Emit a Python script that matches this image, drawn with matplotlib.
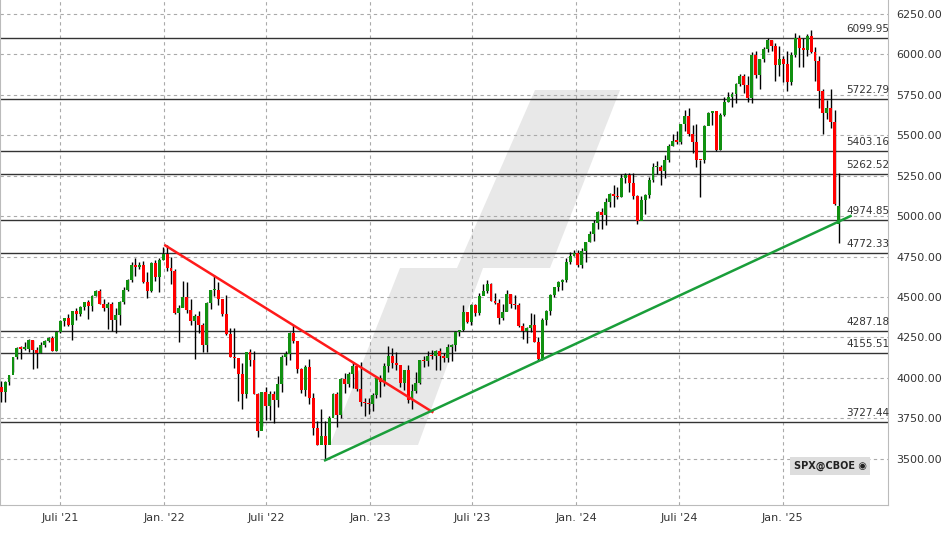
import matplotlib
matplotlib.use("Agg")
import matplotlib.pyplot as plt
import matplotlib.dates as mdates
from matplotlib.patches import Polygon
import numpy as np
import datetime as dt

first_week = "2021-03-19"
first_open = 3943
closes = [3913,3975,4020,4129,4185,4180,4181,4233,4174,4156,4204,4230,4247,4166,4281,4352,4370,4327,4412,4395,
4437,4468,4442,4509,4535,4459,4433,4455,4357,4391,4471,4545,4605,4697,4683,4698,4595,4538,4712,4621,4726,4766,
4677,4663,4398,4432,4501,4419,4349,4385,4329,4204,4463,4543,4546,4488,4393,4272,4132,4123,4024,3901,4158,4109,
3901,3675,3912,3825,3899,3863,3962,4130,4145,4280,4228,4058,3924,4067,3873,3693,3586,3640,3583,3753,3901,3771,
3993,3965,4026,4072,3934,3852,3845,3840,
3895,3999,3973,4071,4136,4090,4079,3970,4046,3862,3917,3971,4109,4105,4138,4133,4169,4136,4124,4192,4205,4282,
4299,4410,4348,4450,4399,4505,4536,4582,4478,4464,4370,4406,4516,4457,4450,4320,4288,4309,4327,4224,4117,4358,
4415,4514,4559,4595,4604,4719,4755,4770,
4697,4784,4840,4891,4959,5027,5006,5089,5137,5124,5117,5234,5254,5204,5123,4967,5100,5128,5223,5303,5305,5278,
5347,5432,5464,5460,5567,5615,5505,5459,5346,5344,5554,5635,5648,5408,5626,5703,5738,5751,5815,5864,5808,5729,
5995,5870,5969,6032,6090,6051,5931,5971,
5942,5827,5997,6101,6041,6026,6115,6013,5955,5770,5639,5668,5581,5074,5060]
highs = [3983,3978,4020,4130,4191,4195,4219,4238,4237,4188,4219,4234,4255,4258,4287,4356,4372,4393,4415,4430,
4442,4470,4479,4513,4545,4549,4486,4466,4466,4429,4475,4560,4608,4718,4743,4718,4720,4652,4713,4731,4740,4808,
4819,4749,4670,4453,4596,4591,4490,4393,4416,4342,4466,4546,4637,4593,4471,4513,4308,4308,4081,4090,4158,4177,
4168,3907,3913,3946,3919,3918,4013,4141,4167,4285,4325,4203,4062,4077,4119,3907,3733,3807,3735,3762,3905,3912,
3999,4028,4034,4100,4051,4101,3876,3878,
3907,4003,4015,4095,4195,4182,4160,4073,4048,4078,3964,4039,4110,4133,4164,4170,4170,4186,4154,4212,4212,4290,
4299,4448,4409,4458,4456,4527,4578,4607,4584,4527,4490,4458,4541,4516,4511,4461,4337,4317,4398,4393,4255,4373,
4418,4520,4560,4597,4609,4738,4778,4793,
4791,4802,4842,4907,4975,5030,5049,5111,5140,5189,5179,5262,5265,5264,5263,5130,5123,5139,5239,5325,5341,5315,
5376,5447,5505,5523,5570,5655,5670,5565,5566,5349,5563,5643,5651,5651,5636,5734,5767,5767,5822,5879,5878,5863,
6012,6018,5972,6044,6099,6085,6070,6049,
5986,6022,6014,6128,6120,6101,6127,6147,6044,5986,5783,5715,5787,5655,5267]
lows = [3854,3853,3955,4034,4118,4118,4170,4160,4056,4062,4155,4188,4220,4165,4165,4279,4321,4318,4233,4360,
4385,4417,4367,4415,4507,4458,4415,4305,4288,4278,4329,4459,4537,4595,4630,4672,4585,4495,4532,4600,4531,4728,
4662,4582,4395,4223,4435,4402,4327,4115,4279,4158,4162,4424,4506,4450,4381,4267,4128,4063,3859,3810,3875,4074,
3900,3637,3705,3738,3743,3722,3819,3911,4080,4112,4218,4030,3907,3887,3838,3648,3584,3636,3491,3590,3764,3698,
3750,3906,3944,3938,3918,3827,3764,3780,
3794,3877,3885,3949,4037,4060,4047,3943,3928,3847,3809,3908,3960,4069,4072,4114,4049,4048,4099,4098,4103,4166,
4261,4289,4341,4328,4385,4389,4517,4527,4474,4458,4335,4356,4414,4431,4427,4316,4238,4216,4284,4223,4104,4113,
4329,4388,4502,4537,4546,4590,4702,4751,
4683,4682,4714,4842,4845,4918,4920,4946,5057,5057,5104,5117,5203,5146,5107,4953,4990,5012,5114,5212,5257,5191,
5234,5331,5432,5447,5448,5528,5497,5390,5305,5119,5330,5560,5560,5402,5406,5615,5707,5674,5696,5804,5762,5703,
5696,5853,5783,5953,6016,6021,5832,5866,
5829,5773,5809,5983,5923,5923,5986,6009,5837,5666,5505,5597,5547,5069,4835]
gap_opens = {212: 4953}

levels = [6099.95, 5722.79, 5403.16, 5262.52, 4974.85, 4772.33, 4287.18, 4155.51, 3727.44]
y_ticks = [3500, 3750, 4000, 4250, 4500, 4750, 5000, 5250, 5500, 5750, 6000, 6250]
x_tick_dates = ["2021-07-01","2022-01-01","2022-07-01","2023-01-01","2023-07-01","2024-01-01","2024-07-01","2025-01-01"]
x_tick_labels = ["Juli '21","Jan. '22","Juli '22","Jan. '23","Juli '23","Jan. '24","Juli '24","Jan. '25"]
red_trend = (("2022-01-03", 4818), ("2023-04-21", 3790))
green_trend = (("2022-10-13", 3491), ("2025-05-01", 5000))

W, H = 948, 534
fig = plt.figure(figsize=(W/100, H/100), dpi=100)
ax = fig.add_axes([0, 1-505/H, 888/W, 505/H])

d0 = dt.date.fromisoformat(first_week)
dates = [d0 + dt.timedelta(weeks=i) for i in range(len(closes))]
x = mdates.date2num(dates) - 1
opens = [first_open] + closes[:-1]
for k, v in gap_opens.items():
    opens[k] = v
opens = np.array(opens, float); c = np.array(closes, float)
hi = np.array(highs, float); lo = np.array(lows, float)

# watermark (in figure pixel coords, behind the data)
def px(xp, yp):
    return (xp/W, 1-yp/H)
wm = [(330,445),(400,268),(457,268),(535,90),(620,90),(550,268),(483,268),(418,445)]
ax.add_patch(Polygon([px(*p) for p in wm], closed=True, transform=fig.transFigure,
                     facecolor="#e8e8e8", edgecolor="none", zorder=0.5))

# grid
for t in y_ticks:
    ax.axhline(t, color="#aaaaaa", lw=0.8, ls=(0,(3,3)), zorder=1)
xt = mdates.date2num([dt.date.fromisoformat(s) for s in x_tick_dates])
for t in xt:
    ax.axvline(t, color="#aaaaaa", lw=0.8, ls=(0,(3,3)), zorder=1)
for lv in levels:
    ax.axhline(lv, color="#333333", lw=1.0, zorder=2)
    ax.text(mdates.date2num(dt.date(2025, 4, 23)), lv+25, f"{lv:.2f}", fontsize=7.5,
            color="#333333", va="bottom", ha="left", zorder=5)

up = c >= opens
col = np.where(up, "#109010", "#ff0000")
ax.vlines(x, lo, hi, color="black", lw=1.0, zorder=3)
body_b = np.minimum(opens, c); body_h = np.maximum(np.abs(c-opens), 8)
ax.bar(x, body_h, bottom=body_b, width=5.2, color=col, edgecolor="none", zorder=4)

def tl(tr, color):
    (a, va), (b, vb) = tr
    ax.plot(mdates.date2num([dt.date.fromisoformat(a), dt.date.fromisoformat(b)]), [va, vb],
            color=color, lw=1.8, zorder=6)
tl(red_trend, "#ff1a1a")
tl(green_trend, "#1a9e3a")

ax.set_xlim(mdates.date2num(dt.date(2021, 3, 16)), mdates.date2num(dt.date(2021, 3, 16)) + 888/0.5644)
ax.set_ylim(3214.8, 6334.7)
ax.set_xticks(xt); ax.set_xticklabels(x_tick_labels, fontsize=8, color="#333333")
ax.yaxis.tick_right()
ax.set_yticks(y_ticks); ax.set_yticklabels([f"{t:.2f}" for t in y_ticks], fontsize=8, color="#333333")
ax.tick_params(length=0, pad=6)
ax.spines["top"].set_visible(False)
for s in ["left", "bottom", "right"]:
    ax.spines[s].set_color("#bbbbbb")

ax.text(830/888, 1-466/505, "SPX@CBOE ◉", transform=ax.transAxes, fontsize=7, fontweight="bold",
        color="#222222", ha="center", va="center",
        bbox=dict(boxstyle="square,pad=0.35", facecolor="#dddddd", edgecolor="none"), zorder=7)

fig.savefig("out.png", dpi=100)
